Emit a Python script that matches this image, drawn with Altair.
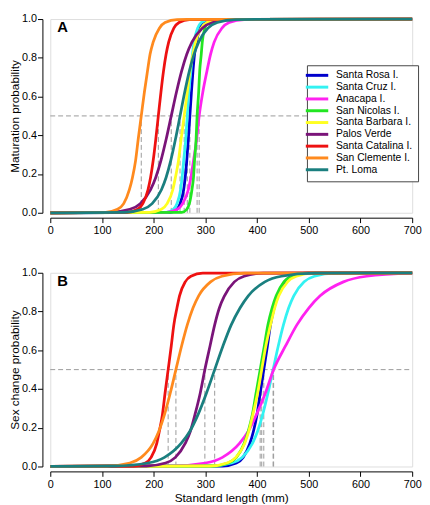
import altair as alt
import pandas as pd

POPULATIONS = ["Santa Rosa I.", "Santa Cruz I.", "Anacapa I.", "San Nicolas I.",
               "Santa Barbara I.", "Palos Verde", "Santa Catalina I.",
               "San Clemente I.", "Pt. Loma"]
COLORS = ["#0000cc", "#33f2f2", "#ff22f0", "#22e622", "#ffff22", "#7a1479",
          "#ee1111", "#ff8a1e", "#1a7f7f"]

# probability levels at which the x position (standard length, mm) of each curve was read
P_LEVELS = [0.0025, 0.018, 0.047, 0.119, 0.182, 0.269, 0.378, 0.5,
            0.622, 0.731, 0.818, 0.881, 0.953, 0.982, 0.9975]

# Panel A: maturation — length at each probability level
MAT_SANTA_ROSA = [232, 245, 251, 258, 261, 264, 267, 270, 273, 276, 279, 283, 289, 295, 308]
MAT_SANTA_CRUZ = [225, 238, 245, 252, 255, 258, 262, 265, 268, 272, 275, 278, 285, 292, 305]
MAT_ANACAPA = [224, 246, 256, 267, 272, 277, 283, 288, 295, 303, 310, 317, 332, 346, 375]
MAT_SAN_NICOLAS = [254, 264, 269, 274, 277, 279, 282, 284, 287, 289, 292, 294, 299, 304, 314]
MAT_SANTA_BARBARA = [192, 215, 226, 237, 242, 248, 253, 259, 265, 270, 276, 281, 292, 303, 326]
MAT_PALOS_VERDE = [114, 154, 174, 194, 204, 214, 224, 234, 244, 254, 264, 274, 294, 314, 354]
MAT_SANTA_CATALINA = [149, 169, 179, 189, 194, 199, 204, 209, 214, 219, 224, 229, 239, 249, 269]
MAT_SAN_CLEMENTE = [107, 130, 142, 153, 159, 165, 170, 176, 182, 188, 193, 199, 211, 222, 245]
MAT_PT_LOMA = [144, 179, 197, 215, 224, 233, 242, 251, 260, 269, 278, 287, 305, 323, 358]

# Panel B: sex change — length at each probability level
SEX_SANTA_ROSA = [333, 360, 373, 386, 393, 400, 406, 413, 420, 426, 433, 440, 453, 466, 493]
SEX_SANTA_CRUZ = [311, 351, 371, 391, 401, 411, 421, 431, 441, 451, 461, 471, 491, 511, 551]
SEX_ANACAPA = [234, 300, 333, 366, 383, 399, 416, 432, 455, 477, 500, 522, 567, 612, 700]
SEX_SAN_NICOLAS = [314, 344, 360, 375, 383, 391, 398, 406, 414, 421, 429, 437, 452, 468, 498]
SEX_SANTA_BARBARA = [309, 342, 359, 376, 384, 392, 401, 409, 417, 426, 434, 442, 459, 476, 509]
SEX_PALOS_VERDE = [186, 223, 242, 261, 271, 280, 290, 299, 309, 318, 327, 337, 356, 375, 412]
SEX_SANTA_CATALINA = [161, 184, 195, 206, 211, 217, 222, 228, 234, 239, 245, 250, 261, 272, 295]
SEX_SAN_CLEMENTE = [110, 154, 176, 199, 210, 221, 232, 243, 254, 265, 276, 287, 310, 332, 376]
SEX_PT_LOMA = [124, 189, 221, 253, 270, 286, 302, 318, 334, 350, 367, 383, 415, 447, 512]

MAT_CURVES = [MAT_SANTA_ROSA, MAT_SANTA_CRUZ, MAT_ANACAPA, MAT_SAN_NICOLAS, MAT_SANTA_BARBARA,
              MAT_PALOS_VERDE, MAT_SANTA_CATALINA, MAT_SAN_CLEMENTE, MAT_PT_LOMA]
SEX_CURVES = [SEX_SANTA_ROSA, SEX_SANTA_CRUZ, SEX_ANACAPA, SEX_SAN_NICOLAS, SEX_SANTA_BARBARA,
              SEX_PALOS_VERDE, SEX_SANTA_CATALINA, SEX_SAN_CLEMENTE, SEX_PT_LOMA]

# 50% lengths (dashed drop lines)
MAT_L50 = [270, 265, 288, 284, 259, 234, 209, 176, 251]
SEX_L50 = [413, 431, 432, 406, 409, 299, 228, 243, 318]

X_MIN, X_MAX = 0, 700
X_TICKS = [0, 100, 200, 300, 400, 500, 600, 700]
Y_TICKS = [0.0, 0.2, 0.4, 0.6, 0.8, 1.0]

FONT = "Liberation Sans"
DASH_COLOR = "#9a9a9a"


def curve_frame(curves):
    rows = []
    for pop, xs in zip(POPULATIONS, curves):
        rows.append({"pop": pop, "x": X_MIN, "p": 0.0})
        for x, p in zip(xs, P_LEVELS):
            rows.append({"pop": pop, "x": x, "p": p})
        if xs[-1] < X_MAX:
            rows.append({"pop": pop, "x": X_MAX, "p": 1.0})
    return pd.DataFrame(rows)


def panel(curves, l50s, ytitle, xtitle, letter, show_legend):
    df = curve_frame(curves)
    xscale = alt.Scale(domain=[X_MIN, X_MAX], nice=False)
    yscale = alt.Scale(domain=[0, 1], nice=False)
    xaxis = alt.Axis(values=X_TICKS, format="d", offset=5, tickSize=5, grid=False,
                     labelFontSize=11, labelPadding=2, titleFontSize=12,
                     titleFontWeight="normal", titlePadding=4, labelOverlap=False,
                     labelFlush=False,
                     domainColor="black", tickColor="black",
                     labelColor="black", titleColor="black",
                     labelFont=FONT, titleFont=FONT, title=xtitle)
    yaxis = alt.Axis(values=Y_TICKS, format=".1f", offset=8, tickSize=5, grid=False,
                     labelFontSize=11, labelPadding=1, titleFontSize=12,
                     titleFontWeight="normal", titlePadding=0, labelOverlap=False,
                     labelFlush=False,
                     domainColor="black", tickColor="black",
                     labelColor="black", titleColor="black",
                     labelFont=FONT, titleFont=FONT, title=ytitle)

    def X(field):
        return alt.X(field, type="quantitative", scale=xscale, axis=xaxis)

    def Y(field):
        return alt.Y(field, type="quantitative", scale=yscale, axis=yaxis)

    hline = alt.Chart(pd.DataFrame({"x": [X_MIN], "x2": [X_MAX], "y": [0.5]})).mark_rule(
        color=DASH_COLOR, strokeDash=[5, 3], strokeWidth=1
    ).encode(x=X("x"), x2="x2:Q", y=Y("y"))

    vlines = alt.Chart(pd.DataFrame({"x": l50s, "y": [0.0] * len(l50s), "y2": [0.5] * len(l50s)})).mark_rule(
        color=DASH_COLOR, strokeDash=[5, 3], strokeWidth=1
    ).encode(x=X("x"), y=Y("y"), y2="y2:Q")

    if show_legend:
        legend = alt.Legend(title=None, orient="none", legendX=261, legendY=47,
                            symbolType="M-3.8,0L3.8,0", symbolSize=36,
                            symbolStrokeWidth=3, labelOffset=14,
                            labelFontSize=10.5, labelFont=FONT, labelColor="black",
                            rowPadding=-1.2, padding=5, strokeColor="#444444",
                            fillColor="white", cornerRadius=0)
    else:
        legend = None
    lines = alt.Chart(df).mark_line(interpolate="monotone", strokeWidth=2.8).encode(
        x=X("x"), y=Y("p"),
        color=alt.Color("pop:N", scale=alt.Scale(domain=POPULATIONS, range=COLORS),
                        sort=POPULATIONS, legend=legend),
    )

    label = alt.Chart(pd.DataFrame({"t": [letter]})).mark_text(
        align="left", baseline="middle", fontSize=15, fontWeight="bold", font=FONT, color="black"
    ).encode(text="t:N", x=alt.value(7), y=alt.value(8))

    return alt.layer(hline, vlines, lines, label).properties(width=368, height=197)


top = panel(MAT_CURVES, MAT_L50, "Maturation probability", None, "A", True)
bottom = panel(SEX_CURVES, SEX_L50, "Sex change probability", "Standard length (mm)", "B", False)

chart = alt.vconcat(top, bottom, spacing=30).resolve_scale(color="independent").resolve_legend(
    color="independent").properties(padding={"left": 0, "top": 0, "right": 0, "bottom": 0}).configure_view(
    stroke=None).configure_axis(labelOverlap=False).configure(font=FONT)

chart.save("out.html", embed_options={"renderer": "svg", "actions": False})
